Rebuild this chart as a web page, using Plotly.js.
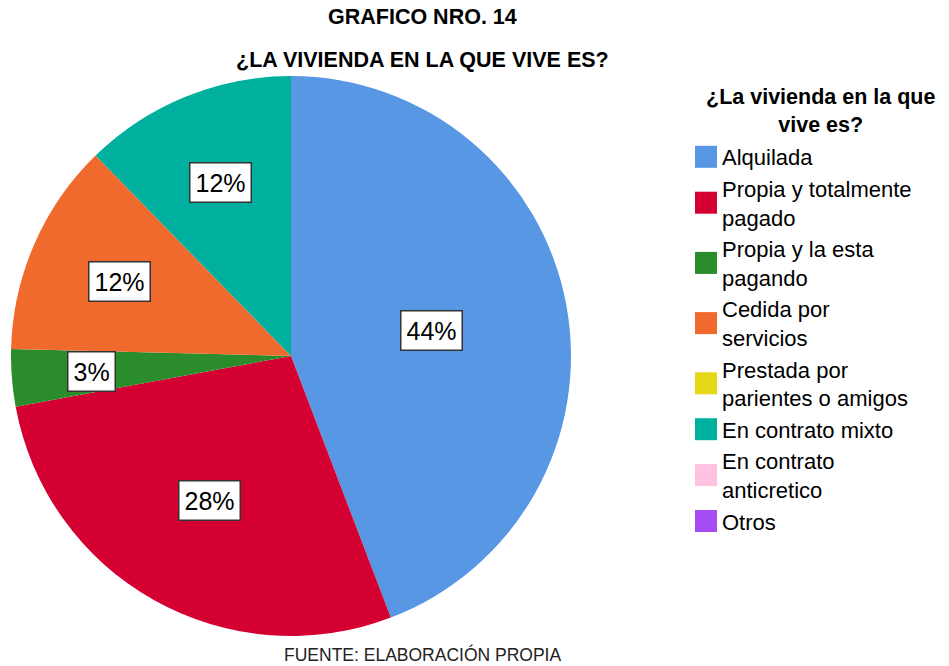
<!DOCTYPE html>
<html><head><meta charset="utf-8">
<script src="https://cdn.plot.ly/plotly-3.0.1.min.js"></script>
<style>body{margin:0;background:#fff}#chart{width:949px;height:666px}</style>
</head><body><div id="chart"></div>
<script>
const categories = ["Alquilada","Propia y totalmente<br>pagado","Propia y la esta<br>pagando","Cedida por<br>servicios","Prestada por<br>parientes o amigos","En contrato mixto","En contrato<br>anticretico","Otros"];
const percents = [44.2, 27.9, 3.3, 12.3, 0, 12.3, 0, 0];
const colors = ["#5797E4","#D50032","#2A8C2A","#F06A2E","#E5D817","#00B09F","#FFC2E0","#A54CF5"];

const FONT = "Liberation Sans, Arial, sans-serif";
const W = 949, H = 666;
const cx = 291, cy = 356, R = 280;
const domX = [(cx - R) / W, (cx + R) / W];
const domY = [(H - (cy + R)) / H, (H - (cy - R)) / H];

const total = percents.reduce((a, b) => a + b, 0);
const annotations = [];
let cum = 0;
percents.forEach((v, i) => {
  if (v <= 0) return;
  const share = v / total;
  const mid = (cum + share / 2) * 2 * Math.PI;
  cum += share;
  const frac = 0.73 - 0.5 * share;
  const px = cx + Math.sin(mid) * R * frac;
  const py = cy - Math.cos(mid) * R * frac;
  annotations.push({
    x: px / W, y: (H - py) / H, xref: "paper", yref: "paper", xanchor: "center", yanchor: "middle",
    text: Math.round(v) + "%", showarrow: false,
    font: {family: FONT, size: 25, color: "#000"},
    bgcolor: "#fff", bordercolor: "#333", borderwidth: 1.5, borderpad: 5
  });
});
const txt = (x, y, text, size, color) => ({x: x / W, y: (H - y) / H, xref: "paper", yref: "paper",
  xanchor: "center", yanchor: "middle", showarrow: false, text: text, align: "center",
  font: {family: FONT, size: size, color: color}});
annotations.push(txt(422, 17, "<b>GRAFICO NRO. 14</b>", 21.5, "#000"));
annotations.push(txt(422, 60, "<b>¿LA VIVIENDA EN LA QUE VIVE ES?</b>", 21.5, "#000"));
annotations.push(txt(422, 654, "FUENTE: ELABORACIÓN PROPIA", 17.5, "#222"));
annotations.push(txt(820, 111, "<b>¿La vivienda en la que<br>vive es?</b>", 21.5, "#000"));

const data = [{
  type: "pie", labels: categories, values: percents,
  marker: {colors: colors, line: {width: 0}},
  sort: false, direction: "clockwise", rotation: 0,
  textinfo: "none", domain: {x: domX, y: domY}, hoverinfo: "label+percent"
}];

const layout = {
  width: W, height: H, margin: {l: 0, r: 0, t: 0, b: 0},
  paper_bgcolor: "#fff", showlegend: true,
  font: {family: FONT},
  legend: {
    x: 682 / W, xanchor: "left", y: (H - 136) / H, yanchor: "top",
    font: {size: 22, color: "#000"},
    tracegroupgap: 0
  },
  annotations: annotations
};

Plotly.newPlot("chart", data, layout, {displayModeBar: false}).then(gd => {
  gd.querySelectorAll(".legendpoints path").forEach(p => {
    p.setAttribute("d", "M11,11H-11V-11H11Z");
    p.setAttribute("transform", "translate(24,0)");
  });
});
</script></body></html>
